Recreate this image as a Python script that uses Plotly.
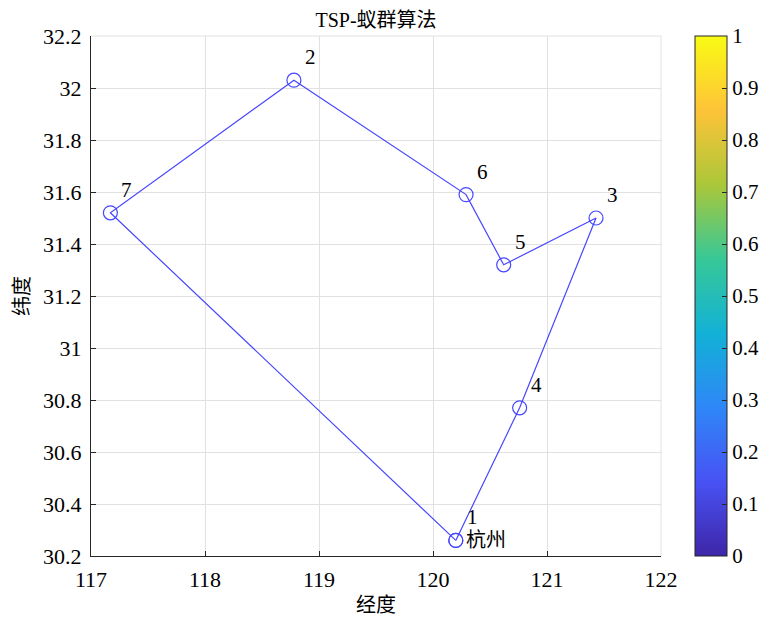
import plotly.graph_objects as go

# City coordinates (longitude, latitude)
city_ids = [1, 2, 3, 4, 5, 6, 7]
lon = [120.20, 118.78, 121.43, 120.76, 120.62, 120.29, 117.17]
lat = [30.26, 32.03, 31.50, 30.77, 31.32, 31.59, 31.52]
start_name = "杭州"
# visiting order of the best tour (closed)
route = [1, 4, 3, 5, 6, 2, 7, 1]

x_ticks = [117, 118, 119, 120, 121, 122]
y_ticks = [30.2, 30.4, 30.6, 30.8, 31, 31.2, 31.4, 31.6, 31.8, 32, 32.2]
y_tick_text = ["30.2", "30.4", "30.6", "30.8", "31", "31.2", "31.4", "31.6", "31.8", "32", "32.2"]
cbar_ticks = [0, 0.1, 0.2, 0.3, 0.4, 0.5, 0.6, 0.7, 0.8, 0.9, 1]
cbar_text = ["0", "0.1", "0.2", "0.3", "0.4", "0.5", "0.6", "0.7", "0.8", "0.9", "1"]

parula = [
    [0.0, "rgb(62,38,168)"],
    [1/7, "rgb(72,82,244)"],
    [2/7, "rgb(46,135,247)"],
    [3/7, "rgb(18,177,214)"],
    [4/7, "rgb(55,200,151)"],
    [5/7, "rgb(171,199,57)"],
    [6/7, "rgb(254,195,56)"],
    [1.0, "rgb(249,251,20)"],
]

FONT = "Liberation Serif, Times New Roman, Noto Sans CJK SC, serif"
LINE_COLOR = "rgb(70,70,255)"
TICK_SIZE = 22

W, H = 763, 617
ML, MR, MT, MB = 91, 102, 36, 61
PW = W - ML - MR

rx = [lon[i - 1] for i in route]
ry = [lat[i - 1] for i in route]

fig = go.Figure()
fig.add_trace(go.Scatter(
    x=rx, y=ry, mode="lines+markers",
    line=dict(color=LINE_COLOR, width=1.2),
    marker=dict(symbol="circle-open", size=14, color=LINE_COLOR, line=dict(width=1.2)),
    showlegend=False, hoverinfo="skip",
))
# dummy trace for colorbar
fig.add_trace(go.Scatter(
    x=[None], y=[None], mode="markers",
    marker=dict(color=[0], cmin=0, cmax=1, colorscale=parula, showscale=True,
                colorbar=dict(
                    x=(695 - ML) / PW, xanchor="left", xpad=0, y=0.5, yanchor="middle",
                    len=1, lenmode="fraction", thickness=32, ypad=0,
                    outlinecolor="rgb(38,38,38)", outlinewidth=1,
                    tickvals=cbar_ticks, ticktext=cbar_text,
                    ticks="inside", ticklen=5, tickcolor="rgb(38,38,38)",
                    tickfont=dict(family=FONT, size=21, color="black"),
                )),
    showlegend=False, hoverinfo="skip",
))

annotations = []
for cid, x, y in zip(city_ids, lon, lat):
    annotations.append(dict(
        x=x, y=y, xref="x", yref="y", text=str(cid), showarrow=False,
        xanchor="left", yanchor="middle", xshift=9, yshift=23,
        font=dict(family=FONT, size=21, color="black"),
    ))
annotations.append(dict(
    x=lon[0], y=lat[0], xref="x", yref="y", text=start_name, showarrow=False,
    xanchor="left", yanchor="middle", xshift=8, yshift=0,
    font=dict(family=FONT, size=20, color="black"),
))
fig.update_layout(annotations=annotations)

fig.update_layout(
    width=W, height=H,
    margin=dict(l=ML, r=MR, t=MT, b=MB, autoexpand=False),
    paper_bgcolor="white", plot_bgcolor="white",
    font=dict(family=FONT, size=20, color="black"),
    title=dict(text="TSP-蚁群算法", x=(ML + PW / 2) / W, xanchor="center",
               y=1 - 20 / H, yanchor="middle", yref="container",
               font=dict(family=FONT, size=20, color="black")),
    xaxis=dict(
        range=[117, 122], tickvals=x_ticks, ticks="inside", ticklen=5,
        tickcolor="rgb(38,38,38)", showline=True, linecolor="rgb(38,38,38)",
        linewidth=1, mirror=False, showgrid=True, gridcolor="rgb(225,225,225)",
        zeroline=False, tickfont=dict(family=FONT, size=TICK_SIZE, color="black"),
        automargin=False, ticklabelstandoff=4,
        title=dict(text="经度", standoff=6, font=dict(family=FONT, size=20)),
    ),
    yaxis=dict(
        range=[30.2, 32.2], tickvals=y_ticks, ticktext=y_tick_text, ticks="inside", ticklen=5,
        tickcolor="rgb(38,38,38)", showline=True, linecolor="rgb(38,38,38)",
        linewidth=1, mirror=False, showgrid=True, gridcolor="rgb(225,225,225)",
        zeroline=False, tickfont=dict(family=FONT, size=TICK_SIZE, color="black"),
        automargin=False, ticklabelstandoff=4,
        title=dict(text="纬度", standoff=8, font=dict(family=FONT, size=20)),
    ),
)
# light box on top/right like MATLAB grid edge
fig.add_shape(type="line", xref="paper", yref="paper", x0=0, x1=1, y0=1, y1=1,
              line=dict(color="rgb(225,225,225)", width=1), layer="below")
fig.add_shape(type="line", xref="paper", yref="paper", x0=1, x1=1, y0=0, y1=1,
              line=dict(color="rgb(225,225,225)", width=1), layer="below")

fig.write_html(
    "out.html",
    config={"displayModeBar": False},
    post_script="document.body.style.margin='0px';document.body.style.overflow='hidden';",
)
